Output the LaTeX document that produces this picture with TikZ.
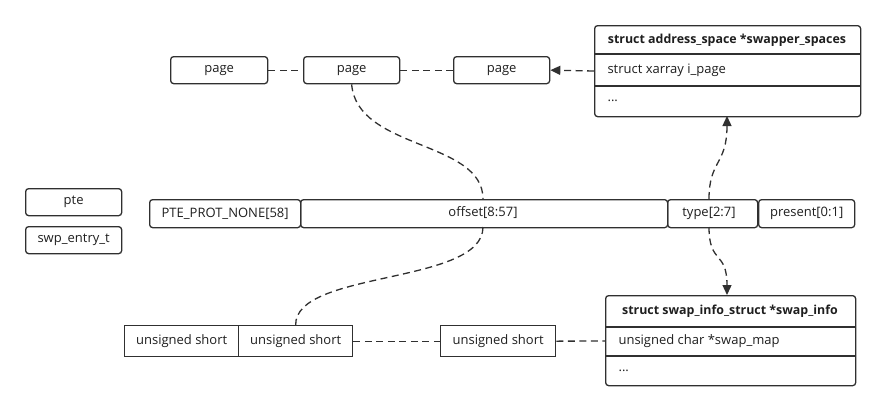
\documentclass[tikz,border=0pt]{standalone}
\usepackage{fontspec}
\setmainfont{Open Sans}
\usetikzlibrary{arrows.meta}
\definecolor{ln}{HTML}{303030}
\definecolor{tx}{HTML}{1E1E1E}
\begin{document}
\begin{tikzpicture}[x=1pt,y=-1pt,
  every node/.style={font=\fontsize{13}{15}\selectfont, text=tx},
  hd/.style={font=\fontsize{12.4}{15}\selectfont\bfseries},
  rbox/.style={draw=ln, line width=1.3pt, rounded corners=3pt, inner sep=0pt, anchor=north west},
  sbox/.style={draw=ln, line width=1.3pt, inner sep=0pt, anchor=north west},
  rule/.style={draw=ln, line width=1.3pt},
  conn/.style={draw=ln, line width=1.3pt, dash pattern=on 7pt off 4.5pt},
  tip/.style={-{Triangle[length=10pt,width=9pt]}}]
\useasboundingbox (0,0) rectangle (885,410);
% page boxes
\node[rbox, minimum width=97pt, minimum height=27pt] (p1) at (170,56) {page};
\node[rbox, minimum width=96pt, minimum height=27pt] (p2) at (303,56) {page};
\node[rbox, minimum width=96pt, minimum height=27pt] (p3) at (453,56) {page};
% address space
\node[rbox, minimum width=266pt, minimum height=91pt] (as) at (594,25) {};
\node[hd] (ash) at (727,40) {struct address\_space *swapper\_spaces};
\draw[rule] (594,54) -- (860,54);
\draw[rule] (594,86) -- (860,86);
\node[anchor=west] (asr1) at (604,70.5) {struct xarray i\_page};
\node[anchor=west] (asr2) at (604,101) {...};
\coordinate (asl) at (594,71);
% legend
\node[rbox, minimum width=96pt, minimum height=27pt] (pte) at (25,188) {pte};
\node[rbox, minimum width=96pt, minimum height=27pt] (swp) at (25,226) {swp\_entry\_t};
% pte fields
\node[rbox, minimum width=151pt, minimum height=28pt] (prot) at (149,199) {PTE\_PROT\_NONE[58]};
\node[rbox, minimum width=367pt, minimum height=28pt] (off) at (300,199) {};
\node (offl) at (483,213) {offset[8:57]};
\node[rbox, minimum width=90pt, minimum height=28pt] (typ) at (667,199) {};
\node (typl) at (709,213) {type[2:7]};
\node[rbox, minimum width=96pt, minimum height=28pt] (pres) at (758,199) {present[0:1]};
\coordinate (offt) at (483,199);
\coordinate (offb) at (483,227);
\coordinate (typt) at (709,199);
\coordinate (typb) at (709,227);
% unsigned shorts
\node[sbox, minimum width=114pt, minimum height=31pt] (u1) at (124,325) {unsigned short};
\node[sbox, minimum width=114pt, minimum height=31pt] (u2) at (238,325) {unsigned short};
\node[sbox, minimum width=115pt, minimum height=31pt] (u3) at (440,325) {unsigned short};
% swap info
\node[rbox, minimum width=250pt, minimum height=90pt] (si) at (605,295) {};
\node[hd] (sih) at (730,311) {struct swap\_info\_struct *swap\_info};
\draw[rule] (605,327) -- (855,327);
\draw[rule] (605,356) -- (855,356);
\node[anchor=west] (sir1) at (615,341.5) {unsigned char *swap\_map};
\node[anchor=west] (sir2) at (615,371) {...};
\coordinate (sil) at (605,341);
\coordinate (ast) at (727,116);
\coordinate (sit) at (727,295);
% connectors
\draw[conn] (p1.east) -- (p2.west);
\draw[conn] (p2.east) -- (p3.west);
\draw[conn, tip] (asl) -- (p3.east);
\draw[conn] (p2.south) .. controls (357,150) and (483,140) .. (offt);
\draw[conn] (offb) .. controls (483,285) and (295,270) .. (u2.north);
\draw[conn] (u2.east) -- (u3.west);
\draw[conn] (u3.east) -- (sil);
\draw[conn, tip] (typt) .. controls (709,160) and (727,165) .. (ast);
\draw[conn, tip] (typb) .. controls (709,265) and (727,250) .. (sit);
\end{tikzpicture}
\end{document}
